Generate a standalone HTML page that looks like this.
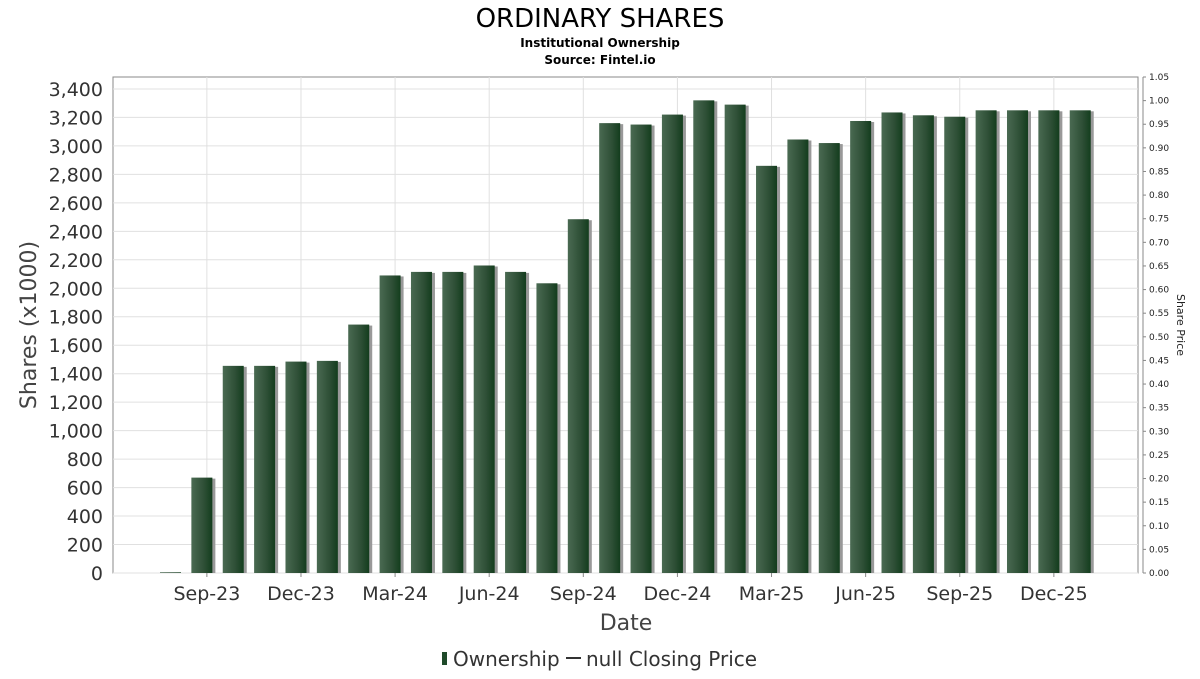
<!DOCTYPE html>
<html><head><meta charset="utf-8"><style>
body{margin:0;background:#fff;font-family:"DejaVu Sans","Liberation Sans",sans-serif}
</style></head><body>
<svg width="1200" height="675" xmlns="http://www.w3.org/2000/svg">
<defs>
<linearGradient id="bg" x1="0" x2="1" y1="0" y2="0">
<stop offset="0" stop-color="#4a6a52"/><stop offset="0.6" stop-color="#2e4f36"/><stop offset="1" stop-color="#133d1d"/>
</linearGradient>
</defs>
<text x="600" y="27" text-anchor="middle" font-size="26" fill="#000">ORDINARY SHARES</text>
<text x="600" y="47" text-anchor="middle" font-size="12" font-weight="bold">Institutional Ownership</text>
<text x="600" y="64" text-anchor="middle" font-size="12" font-weight="bold">Source: Fintel.io</text>
<rect x="113" y="77" width="1025" height="496" fill="#fff" stroke="#888"/>
<g id="grid"></g><g id="bars"></g><g id="axes"></g>
<text transform="translate(36,325) rotate(-90)" text-anchor="middle" font-size="22" fill="#444">Shares (x1000)</text>
<text transform="translate(1177,325) rotate(90)" text-anchor="middle" font-size="11" fill="#222">Share Price</text>
<text x="626" y="630" text-anchor="middle" font-size="22" fill="#444">Date</text>
<g>
<rect x="442" y="652" width="5" height="13" fill="#1f4a2a"/>
<text x="453" y="666" font-size="20" fill="#333">Ownership</text>
<line x1="566" y1="658" x2="581" y2="658" stroke="#333" stroke-width="2"/>
<text x="586" y="666" font-size="20" fill="#333">null Closing Price</text>
</g>
</svg>
<script>
const values=[5,670,1455,1455,1485,1490,1745,2090,2115,2115,2160,2115,2035,2485,3160,3150,3220,3320,3290,2860,3045,3020,3175,3235,3215,3205,3250,3250,3250,3250];
const yTicks=[0,200,400,600,800,1000,1200,1400,1600,1800,2000,2200,2400,2600,2800,3000,3200,3400];
const y2Ticks=["0.00","0.05","0.10","0.15","0.20","0.25","0.30","0.35","0.40","0.45","0.50","0.55","0.60","0.65","0.70","0.75","0.80","0.85","0.90","0.95","1.00","1.05"];
const xLabels=["Sep-23","Dec-23","Mar-24","Jun-24","Sep-24","Dec-24","Mar-25","Jun-25","Sep-25","Dec-25"];
const NS="http://www.w3.org/2000/svg";
const y0=573,yMax=3484,ph=496;
const ys=v=>y0-v/yMax*ph;
const y2s=v=>y0-v/1.05*ph;
const xs=i=>170.5+31.37*i;
function mk(t,a,p){const e=document.createElementNS(NS,t);for(const k in a)e.setAttribute(k,a[k]);document.getElementById(p).appendChild(e);return e;}
yTicks.forEach(v=>{
 const g=mk('line',{x1:113,x2:1138,y1:ys(v),y2:ys(v),stroke:'#e0e0e0'},'grid');
 
 
 const t=mk('text',{x:103,y:ys(v)+7,'text-anchor':'end','font-size':19,fill:'#333'},'axes');
 t.textContent=v.toLocaleString('en-US');
 
 
});
y2Ticks.forEach(s=>{
 const v=parseFloat(s);
 mk('line',{x1:1143,x2:1146,y1:y2s(v),y2:y2s(v),stroke:'#888'},'axes');
 const t=mk('text',{x:1149,y:y2s(v)+3,'font-size':9,fill:'#222'},'axes');
 t.textContent=s;
 
 
});
mk('line',{x1:1143,x2:1143,y1:77,y2:573,stroke:'#888'},'axes');
xLabels.forEach((s,k)=>{
 const x=xs(1+3*k)+5;
 const g=mk('line',{x1:x,x2:x,y1:77,y2:573,stroke:'#e0e0e0'},'grid');
 
 
 mk('line',{x1:x,x2:x,y1:573,y2:577,stroke:'#888'},'axes');
 const t=mk('text',{x:x,y:600,'text-anchor':'middle','font-size':19,fill:'#333'},'axes');
 t.textContent=s;
 
 
});
values.forEach((v,i)=>{
 const x=xs(i)-10.5,y=ys(v),h=y0-y;
 const sh=mk('rect',{x:x+3,y:y+1,width:21,height:Math.max(h-1,0),fill:'#999'},'bars');
 
 
 const r=mk('rect',{x:x,y:y,width:21,height:h,fill:'url(#bg)'},'bars');
 
 
});
</script>
</body></html>
